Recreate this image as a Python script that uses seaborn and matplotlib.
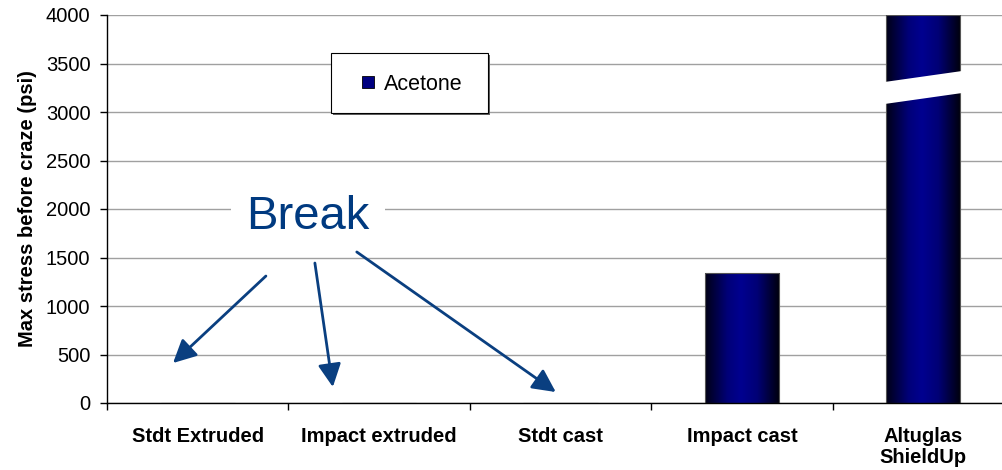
import numpy as np
import pandas as pd
import matplotlib
matplotlib.use("Agg")
import matplotlib.pyplot as plt
import seaborn as sns
from matplotlib.colors import LinearSegmentedColormap
from matplotlib.patches import Rectangle, Polygon
from matplotlib.lines import Line2D

# ---- data ----
categories = ["Stdt Extruded", "Impact extruded", "Stdt cast", "Impact cast", "Altuglas\nShieldUp"]
acetone = [0, 0, 0, 1340, 4000]
series_name = "Acetone"
y_ticks = [0, 500, 1000, 1500, 2000, 2500, 3000, 3500, 4000]
break_lower = (3082, 3196)   # lower cut edge of the broken bar (left, right)
break_upper = (3309, 3423)   # upper cut edge of the broken bar (left, right)
annotation_text = "Break"

sns.set_theme(style="white")
plt.rcParams['font.family'] = ['Liberation Sans', 'DejaVu Sans']
plt.rcParams['text.color'] = 'black'
plt.rcParams['axes.labelcolor'] = 'black'
plt.rcParams['xtick.color'] = 'black'
plt.rcParams['ytick.color'] = 'black'

fig = plt.figure(figsize=(10.03, 4.70), dpi=100)
ax = fig.add_axes([107/1003, 1-403/470, 907/1003, 388/470])

df = pd.DataFrame({"cat": categories, "val": acetone})
sns.barplot(data=df, x="cat", y="val", color="#000080", width=0.41, ax=ax,
            saturation=1, edgecolor="#555555", linewidth=0.8, zorder=3)

ax.set_xlim(-0.5, 4.5)
ax.set_ylim(0, 4000)

# gradient fill for bars
cmap = LinearSegmentedColormap.from_list(
    "cyl", [(0, "#000015"), (0.3, "#000078"), (0.48, "#000090"), (0.7, "#000075"), (1, "#00000a")])
grad = np.linspace(0, 1, 256).reshape(1, -1)
for p in ax.patches:
    h = p.get_height()
    if h <= 0:
        continue
    x0, w = p.get_x(), p.get_width()
    ax.imshow(grad, cmap=cmap, extent=[x0, x0 + w, 0, h], aspect="auto",
              zorder=2.9, interpolation="bicubic")
    p.set_facecolor("none")
ax.set_xlim(-0.5, 4.5)
ax.set_ylim(0, 4000)

# break on the last bar
last = ax.patches[len(categories) - 1]
bx0, bw = last.get_x(), last.get_width()
pad = 0.01
poly = Polygon([(bx0 - pad, break_lower[0]), (bx0 + bw + pad, break_lower[1]),
                (bx0 + bw + pad, break_upper[1]), (bx0 - pad, break_upper[0])],
               closed=True, facecolor="white", edgecolor="none", zorder=4)
ax.add_patch(poly)

# axes styling
ax.set_yticks(y_ticks)
ax.set_yticklabels([str(t) for t in y_ticks], fontsize=14.5)
ax.yaxis.grid(True, color="#a0a0a0", linewidth=1.0, zorder=0)
ax.xaxis.grid(False)
ax.set_axisbelow(True)
for s in ["top", "right"]:
    ax.spines[s].set_visible(False)
for s in ["left", "bottom"]:
    ax.spines[s].set_color("black")
    ax.spines[s].set_linewidth(1.0)
    ax.spines[s].set_zorder(5)

ax.set_xticks(range(len(categories)))
ax.set_xticklabels(categories, fontsize=14.5, fontweight="bold", linespacing=1.15)
ax.tick_params(axis="x", which="major", length=0, pad=17)
ax.set_xticks(np.arange(-0.5, len(categories), 1.0), minor=True)
ax.tick_params(axis="x", which="minor", length=5, width=1, color="black", direction="out", bottom=True)
ax.tick_params(axis="y", which="major", length=5, width=1, color="black", direction="out", left=True, pad=7)
ax.set_xlabel("")
ax.set_ylabel("Max stress before craze (psi)", fontsize=14.5, fontweight="bold", labelpad=6)

# legend with boxed frame
handle = Line2D([], [], marker="s", linestyle="none", markersize=9,
                markerfacecolor="#000080", markeredgecolor="black", markeredgewidth=0.6)
box = Rectangle((331/1003, 1-113/470), 157/1003, 60/470, transform=fig.transFigure,
                facecolor="white", edgecolor="black", linewidth=0.8, zorder=6)
shadow = Rectangle((333/1003, 1-115/470), 157/1003, 60/470, transform=fig.transFigure,
                   facecolor="#606060", edgecolor="none", zorder=5.9)
fig.patches.extend([shadow, box])
leg = fig.legend([handle], [series_name], loc="center", bbox_to_anchor=(411/1003, 1-84/470),
                 frameon=False, fontsize=15.5, handletextpad=0.3, handlelength=0.8)
leg.set_zorder(7)

# Break annotation
ax.text(0.607, 1918, annotation_text, fontsize=34, color="#003a80", ha="center", va="center",
        bbox=dict(boxstyle="square,pad=0.33", facecolor="white", edgecolor="none"), zorder=6)
arrows = [((0.376, 1309), (-0.136, 412)),
          ((0.646, 1443), (0.745, 165)),
          ((0.877, 1557), (1.974, 113))]
for tail, tip in arrows:
    ax.annotate("", xy=tip, xytext=tail,
                arrowprops=dict(arrowstyle="-|>,head_length=0.5,head_width=0.25",
                                color="#0a3f80", lw=2, mutation_scale=28,
                                shrinkA=0, shrinkB=0),
                zorder=7)

fig.savefig("out.png", dpi=100)
